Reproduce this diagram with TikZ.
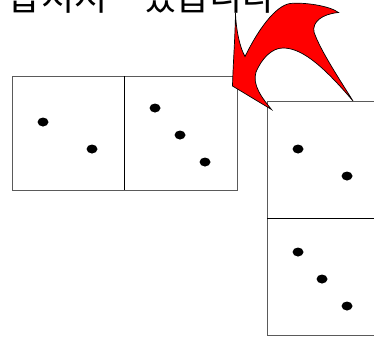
\documentclass[tikz,border=0pt]{standalone}
\usepackage{fontspec}
\newfontfamily\kofont{Noto Sans CJK KR}
\usepackage{tikz}
\usetikzlibrary{positioning}
\definecolor{boxgray}{RGB}{90,90,90}

\begin{document}
\begin{tikzpicture}[x=1pt, y=-1pt,
  box/.style={draw=boxgray, line width=1},
  split/.style={draw=black, line width=0.9},
  dot/.style={fill=black},
  curlyarrow/.style={fill=red, draw=black, line width=0.7}]
  \useasboundingbox (0,0) rectangle (374,338);
  % caption (cut off at the top)
  \node[anchor=base east, inner sep=0, font=\kofont\fontsize{36}{40}\selectfont] (caption) at (276,10) {합쳐져　있습니다};
  % left pair
  \draw[box] (12,76) rectangle (237,190);
  \draw[split] (124,76) -- (124,190);
  \fill[dot] (43,122) ellipse (5.5 and 4.5);
  \fill[dot] (92,149) ellipse (5.5 and 4.5);
  \fill[dot] (155,108) ellipse (5.5 and 4.5);
  \fill[dot] (180,135) ellipse (5.5 and 4.5);
  \fill[dot] (205,162) ellipse (5.5 and 4.5);
  % right pair
  \draw[box] (267,101) rectangle (380,335);
  \draw[split] (267,218) -- (380,218);
  \fill[dot] (298,149) ellipse (5.5 and 4.5);
  \fill[dot] (347,176) ellipse (5.5 and 4.5);
  \fill[dot] (298,252) ellipse (5.5 and 4.5);
  \fill[dot] (322,279) ellipse (5.5 and 4.5);
  \fill[dot] (347,306) ellipse (5.5 and 4.5);
  % red curved arrow
  \filldraw[curlyarrow] (235.5,13) .. controls (235,40) and (233,65) .. (232.5,86)
    -- (271.5,109.5)
    .. controls (262,98) and (252,85) .. (256,72)
    .. controls (262,58) and (272,48) .. (283,48)
    .. controls (300,48) and (320,62) .. (353,101)
    .. controls (340,80) and (320,50) .. (314,32)
    .. controls (312,22) and (322,14) .. (338.5,12.5)
    .. controls (330,6) and (305,2) .. (290,3.5)
    .. controls (275,6) and (258,30) .. (245,56.5)
    .. controls (240,48) and (236,30) .. (235.5,13) -- cycle;
\end{tikzpicture}
\end{document}
